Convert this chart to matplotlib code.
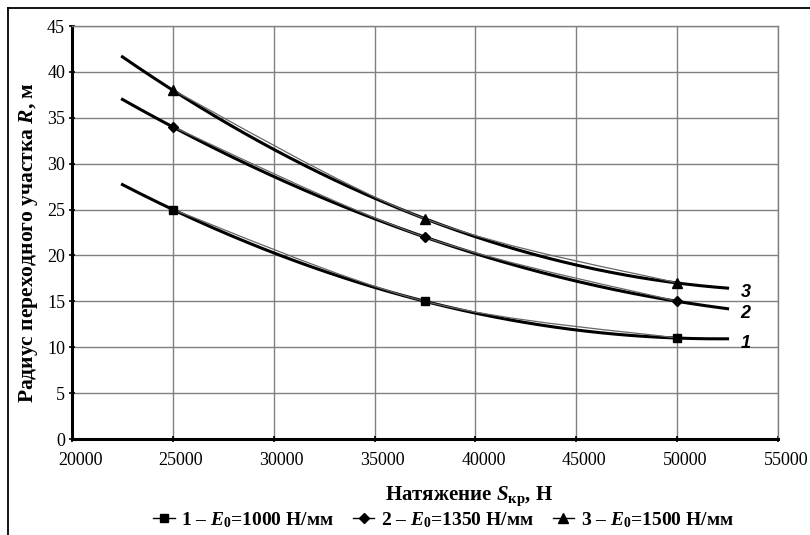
import matplotlib
matplotlib.use("Agg")
import matplotlib.pyplot as plt
import matplotlib.transforms as mtransforms
import numpy as np
from matplotlib.lines import Line2D
from matplotlib.path import Path
from matplotlib.patches import PathPatch

# data
tension = [25000, 37500, 50000]
radius_1 = [25, 15, 11]
radius_2 = [34, 22, 15]
radius_3 = [38, 24, 17]
series_names = [r"$\mathit{1}$ – $\mathit{E}_{0}$=1000 Н/мм",
                r"$\mathit{2}$ – $\mathit{E}_{0}$=1350 Н/мм",
                r"$\mathit{3}$ – $\mathit{E}_{0}$=1500 Н/мм"]
curve_tags = ["1", "2", "3"]
markers = ["s", "D", "^"]
marker_sizes = [6, 5, 6.5]

plt.rcParams['font.family'] = ['Liberation Serif', 'DejaVu Serif']
plt.rcParams['mathtext.fontset'] = 'custom'
plt.rcParams['mathtext.rm'] = 'Liberation Serif:bold'
plt.rcParams['mathtext.it'] = 'Liberation Serif:italic:bold'
plt.rcParams['mathtext.bf'] = 'Liberation Serif:bold'


def smooth_path(xs, ys):
    # Excel-style smoothed line: cubic Bezier, control points from neighbours
    pts = np.column_stack([xs, ys]).astype(float)
    ext = np.vstack([pts[0], pts, pts[-1]])
    verts = [pts[0]]
    codes = [Path.MOVETO]
    for i in range(len(pts) - 1):
        p0, p1, p2, p3 = ext[i], ext[i + 1], ext[i + 2], ext[i + 3]
        verts += [p1 + (p2 - p0) / 6, p2 - (p3 - p1) / 6, p2]
        codes += [Path.CURVE4] * 3
    return Path(verts, codes)


fig = plt.figure(figsize=(8.1, 5.35), dpi=100)
ax = fig.add_axes([0.0889, 0.1794, 0.8716, 0.772])

# polynomial trendlines (order 2), forecast 2500 both ways
xt = np.linspace(tension[0] - 2500, tension[-1] + 2500, 200)
handles = []
for i, ys in enumerate([radius_1, radius_2, radius_3]):
    ax.add_patch(PathPatch(smooth_path(tension, ys), fc='none', ec='#666666',
                           lw=0.9, zorder=4))
    ax.plot(tension, ys, ls='none', marker=markers[i], ms=marker_sizes[i],
            mfc='black', mec='black', zorder=5)
    handles.append(Line2D([], [], color='black', lw=1.0, marker=markers[i],
                          ms=marker_sizes[i], mfc='black', mec='black'))
    p = np.polyfit(tension, ys, 2)
    yt = np.polyval(p, xt)
    ax.plot(xt, yt, color='black', lw=2.2, zorder=3)
    ax.text(xt[-1] + 650, yt[-1] - 0.5, curve_tags[i], fontsize=13,
            family='Liberation Sans', fontweight='bold', style='italic',
            va='center', ha='left')

ax.set_xlim(20000, 55000)
ax.set_ylim(0, 45)
ax.set_xticks(np.arange(20000, 55001, 5000))
ax.set_yticks(np.arange(0, 46, 5))
ax.grid(True, color='#808080', lw=1.0)
ax.set_axisbelow(True)
for side in ['top', 'right']:
    ax.spines[side].set_color('#808080')
    ax.spines[side].set_linewidth(1.0)
for side in ['left', 'bottom']:
    ax.spines[side].set_linewidth(2.2)
ax.tick_params(direction='inout', length=4, width=1.2, labelsize=13, pad=3)
ax.tick_params(axis='x', pad=7)
# x tick labels sit a little right of their ticks in the original
shift = mtransforms.ScaledTranslation(8 / 100, 0, fig.dpi_scale_trans)
for lab in ax.get_xticklabels():
    lab.set_transform(lab.get_transform() + shift)

ax.set_xlabel(r"Натяжение $\mathit{S}_{\mathrm{кр}}$, Н", fontsize=15,
              fontweight='bold')
ax.xaxis.set_label_coords(0.562, -0.11)
ax.set_ylabel(r"Радиус переходного участка $\mathit{R}$, м", fontsize=15.5,
              fontweight='bold')
ax.yaxis.set_label_coords(-0.045, 0.477)

fig.legend(handles, series_names, loc='center', bbox_to_anchor=(0.5475, 0.028),
           ncol=3, frameon=False, handlelength=1.1, handletextpad=0.35,
           columnspacing=0.95, prop={'family': 'Liberation Serif',
                                     'weight': 'bold', 'size': 14})

# frame of the cropped figure (left and top only)
fig.add_artist(Line2D([8 / 810, 8 / 810], [0, 1 - 8 / 535], color='black', lw=1.3))
fig.add_artist(Line2D([8 / 810, 1], [1 - 8 / 535, 1 - 8 / 535], color='black', lw=1.3))

fig.savefig("out.png", dpi=100)
